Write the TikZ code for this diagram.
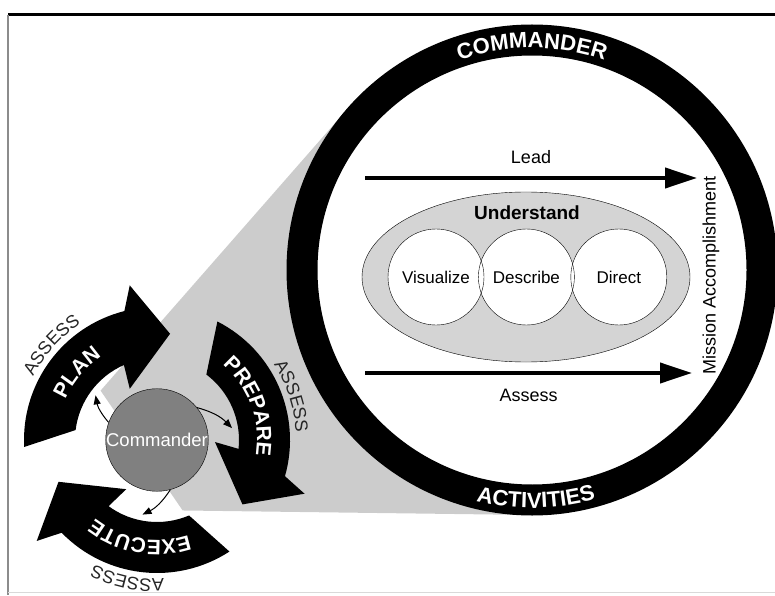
\documentclass[tikz,border=0pt]{standalone}
\usepackage{fontspec}
\setmainfont{Liberation Sans}
\usetikzlibrary{positioning}
\usetikzlibrary{arrows.meta,decorations.text,shapes.geometric}

\tikzset{
  wedge/.style={fill=black!20},
  ring/.style={draw=black,line width=31pt},
  ringtext/.style={decorate,decoration={text along path,text align=center,text color=white,
    text={|\fontsize{22}{22}\selectfont\bfseries|#1}}},
  bandtext/.style={decorate,decoration={text along path,text align=center,text color=white,
    text={|\fontsize{21}{21}\selectfont\bfseries|#1}}},
  assesstext/.style={decorate,decoration={text along path,text align=center,text color=black!85,
    text={|\fontsize{18}{18}\selectfont|ASSESS}}},
  lbl/.style={font=\fontsize{18}{18}\selectfont},
  und/.style={ellipse,draw=black,fill=black!17,minimum width=328pt,minimum height=170pt},
  act/.style={circle,fill=white,minimum size=96pt,inner sep=0pt,font=\fontsize{17}{17}\selectfont},
  cmdcircle/.style={circle,draw=black,fill=black!50,minimum size=102pt,inner sep=0pt,text=white,
    font=\fontsize{18.5}{18.5}\selectfont},
  cyclearrow/.style={fill=black},
  bigarrow/.style={line width=4pt,-{Triangle[length=32pt,width=20pt]}},
  smallarrow/.style={line width=1pt,-{Triangle[length=9pt,width=7pt]}}
}

\begin{document}
\begin{tikzpicture}[x=1pt,y=1pt]
\useasboundingbox (0,0) rectangle (775,595);

% frame
\draw[line width=3pt] (8,580) -- (775,580);
\draw[black!45,line width=2pt] (8,580) -- (8,0);
\draw[black!15,line width=1pt] (8,3) -- (775,3);

\coordinate (cyc) at (157,155);
\coordinate (bigc) at (532,325);

% zoom wedge
\fill[wedge] ([shift={(138.8:75pt)}]cyc) -- ([shift={(138.8:245pt)}]bigc)
  -- ([shift={(-90:245pt)}]bigc) -- ([shift={(-70:75pt)}]cyc) -- cycle;

% commander activities ring
\draw[ring,fill=white] (bigc) circle[radius=230pt];
\path[ringtext=COMMANDER] ([shift={(125:222pt)}]bigc) arc[start angle=125,end angle=55,radius=222pt];
\path[ringtext=ACTIVITIES] ([shift={(236:238pt)}]bigc) arc[start angle=236,end angle=306,radius=238pt];

% understand
\node[und] (und) at (526,318) {};
\node[font=\fontsize{19}{19}\selectfont\bfseries] (undlbl) at (527,382) {Understand};
\node[act] (vis) at (436,318) {Visualize};
\node[act,right=-6pt of vis] (desc) {Describe};
\node[act,right=-4pt of desc] (dir) {Direct};
\foreach \n in {vis,desc,dir}
  \draw (\n.center) circle[radius=48pt];

% lead and assess
\coordinate (leadstart) at (365,417);
\coordinate (leadend) at (697,417);
\draw[bigarrow] (leadstart) -- (leadend) node[midway,above=9pt,lbl] (lead) {Lead};
\coordinate (assstart) at (365,222);
\coordinate (assend) at (692,222);
\draw[bigarrow] (assstart) -- (assend) node[midway,below=11pt,lbl] (assess) {Assess};
\node[lbl,rotate=90] (mission) at (711,320) {Mission Accomplishment};

% operations process
\foreach \o in {0,-120,-240}
  \fill[cyclearrow] ([shift={(\o+183:133pt)}]cyc) arc[start angle=\o+183,end angle=\o+104.2,radius=133pt]
    -- ([shift={(\o+100:157pt)}]cyc) -- ([shift={(\o+83:107pt)}]cyc)
    -- ([shift={(\o+118:58pt)}]cyc) -- ([shift={(\o+113.8:82pt)}]cyc)
    arc[start angle=\o+113.8,end angle=\o+173,radius=82pt] -- cycle;
\path[bandtext=PLAN] ([shift={(180:100pt)}]cyc) arc[start angle=180,end angle=100,radius=100pt];
\path[bandtext=PREPARE] ([shift={(62:100pt)}]cyc) arc[start angle=62,end angle=-22,radius=100pt];
\path[bandtext=EXECUTE] ([shift={(-58:100pt)}]cyc) arc[start angle=-58,end angle=-142,radius=100pt];
\foreach \o in {0,-120,-240}
  \path[assesstext] ([shift={(\o+173:139pt)}]cyc) arc[start angle=\o+173,end angle=\o+103,radius=139pt];

\node[cmdcircle] (cmd) at (cyc) {Commander};
\foreach \s/\t [count=\i] in {160/144,39/9,-75/-101}{
  \coordinate (tip\i) at ([shift={(\t:76pt)}]cyc);
  \draw[smallarrow] (cmd.\s) to[bend left=15] (tip\i);
}
\end{tikzpicture}
\end{document}
